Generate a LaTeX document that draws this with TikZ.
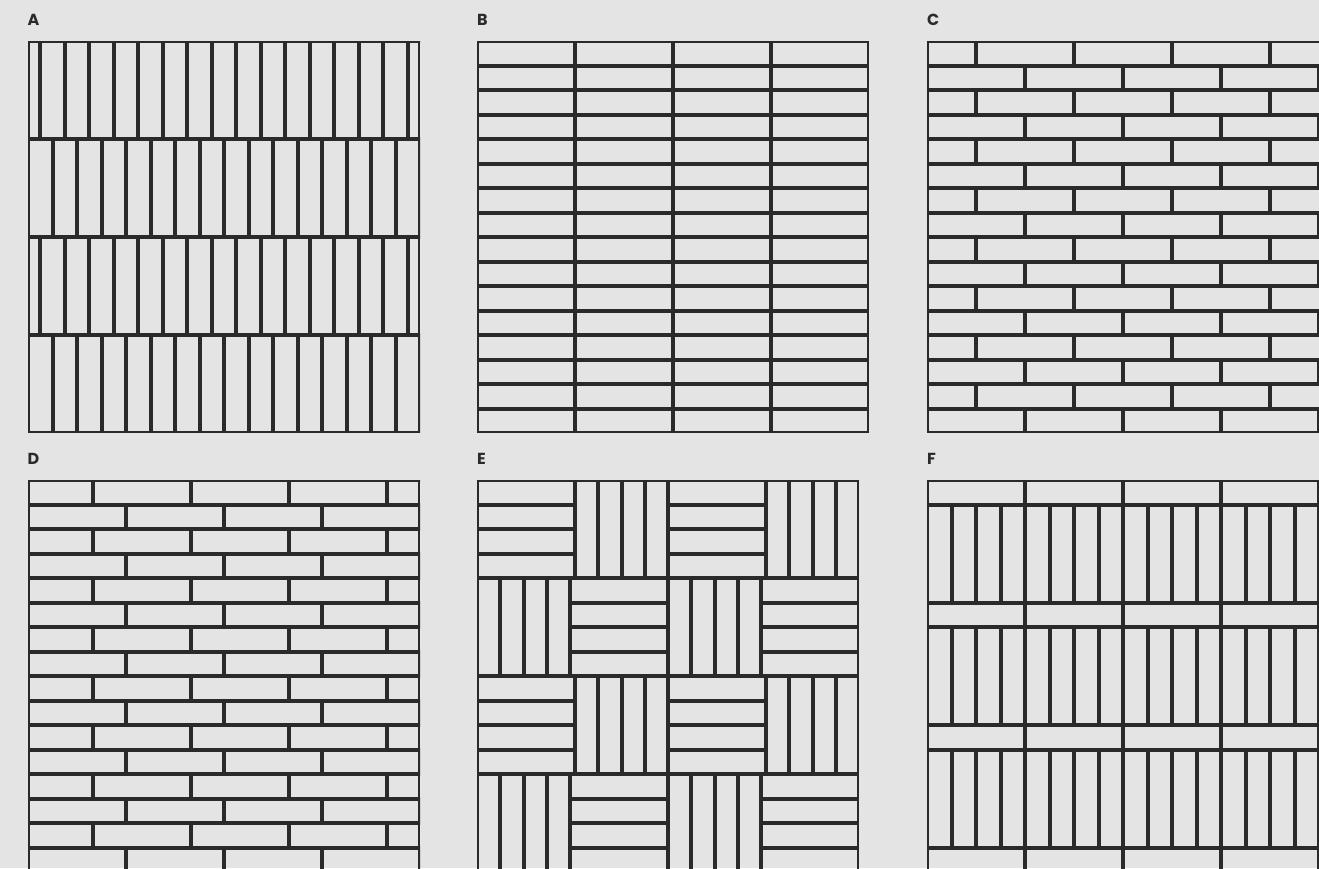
\documentclass[tikz,border=0pt]{standalone}
\usepackage{fontspec}
\newfontfamily\labfont{Poppins}
\definecolor{bg}{HTML}{E4E4E4}
\definecolor{ink}{HTML}{2A2A2A}
\tikzset{
  tile/.style={draw=ink, line width=2pt},
  lab/.style={anchor=base west, inner sep=0pt, font=\labfont\bfseries\fontsize{16}{16}\selectfont, text=ink}
}
% tile with top-left (#1,#2), width #3, height #4 (inset by 1 so joints look double)
\newcommand\tl[4]{\draw[tile] ({#1+1},{#2+1}) rectangle ({#1+#3-1},{#2+#4-1});}
% horizontal block of 4 stacked tiles
\newcommand\hblock[3]{\foreach \k in {0,...,3}{\tl{#1}{#2+\k*24.5}{#3}{24.5}}}
% vertical block of 4 side-by-side tiles
\newcommand\vblock[3]{\foreach \k in {0,...,3}{\tl{#1+\k*#3/4}{#2}{#3/4}{98}}}
\begin{document}
\begin{tikzpicture}[x=1pt,y=-1pt]
\fill[bg] (0,0) rectangle (1319,868);
\useasboundingbox (0,0) rectangle (1319,868);
\clip (0,0) rectangle (1319,868);

% ---------- labels ----------
\node[lab] (la) at (27.5,25.5) {A};
\node[lab] (lb) at (477,25.5) {B};
\node[lab] (lc) at (927,25.5) {C};
\node[lab] (ld) at (27.5,464) {D};
\node[lab] (le) at (477,464) {E};
\node[lab] (lf) at (927,464) {F};

% ---------- A : vertical stack bond ----------
\begin{scope}
\clip (28,41) rectangle (420,433);
\foreach \r in {0,...,3}{
  \pgfmathsetmacro\yy{41+\r*98}
  \pgfmathsetmacro\off{mod(\r,2)==0 ? -12.25 : 0}
  \foreach \i in {0,...,16}{
    \tl{28+\off+\i*24.5}{\yy}{24.5}{98}
  }
}
\end{scope}
\draw[tile] (29,42) rectangle (419,432);

% ---------- B : stack bond ----------
\begin{scope}
\clip (477,41) rectangle (869,433);
\foreach \r in {0,...,15}{
  \pgfmathsetmacro\yy{41+\r*24.5}
  \foreach \i in {0,...,3}{
    \tl{477+\i*98}{\yy}{98}{24.5}
  }
}
\end{scope}
\draw[tile] (478,42) rectangle (868,432);

% ---------- C : half running bond ----------
\begin{scope}
\clip (927,41) rectangle (1325,433);
\foreach \r in {0,...,15}{
  \pgfmathsetmacro\yy{41+\r*24.5}
  \pgfmathsetmacro\off{mod(\r,2)==0 ? -49 : 0}
  \foreach \i in {0,...,4}{
    \tl{927+\off+\i*98}{\yy}{98}{24.5}
  }
}
\end{scope}
\draw[tile] (928,42) rectangle (1324,432);

% ---------- D : third running bond ----------
\begin{scope}
\clip (28,480) rectangle (420,872);
\foreach \r in {0,...,15}{
  \pgfmathsetmacro\yy{480+\r*24.5}
  \pgfmathsetmacro\off{mod(\r,2)==0 ? -32.667 : 0}
  \foreach \i in {0,...,4}{
    \tl{28+\off+\i*98}{\yy}{98}{24.5}
  }
}
\end{scope}
\draw[tile] (29,481) rectangle (419,871);

% ---------- E : basket weave ----------
\begin{scope}
\clip (477,480) rectangle (859,872);
\foreach \R in {0,...,3}{
  \pgfmathsetmacro\yy{480+\R*98}
  \ifodd\R
    \vblock{477}{\yy}{93}
    \hblock{570}{\yy}{98}
    \vblock{668}{\yy}{93}
    \hblock{761}{\yy}{98}
  \else
    \hblock{477}{\yy}{98}
    \vblock{575}{\yy}{93}
    \hblock{668}{\yy}{98}
    \vblock{766}{\yy}{93}
  \fi
}
\end{scope}
\draw[tile] (478,481) rectangle (858,871);

% ---------- F : banded stack ----------
\begin{scope}
\clip (927,480) rectangle (1325,872);
\foreach \b in {0,...,3}{
  \pgfmathsetmacro\yy{480+\b*122.5}
  \foreach \i in {0,...,4}{
    \tl{927+\i*98}{\yy}{98}{24.5}
  }
  \foreach \i in {0,...,16}{
    \tl{927+\i*24.5}{\yy+24.5}{24.5}{98}
  }
}
\end{scope}
\draw[tile] (928,481) rectangle (1324,871);
\end{tikzpicture}
\end{document}
